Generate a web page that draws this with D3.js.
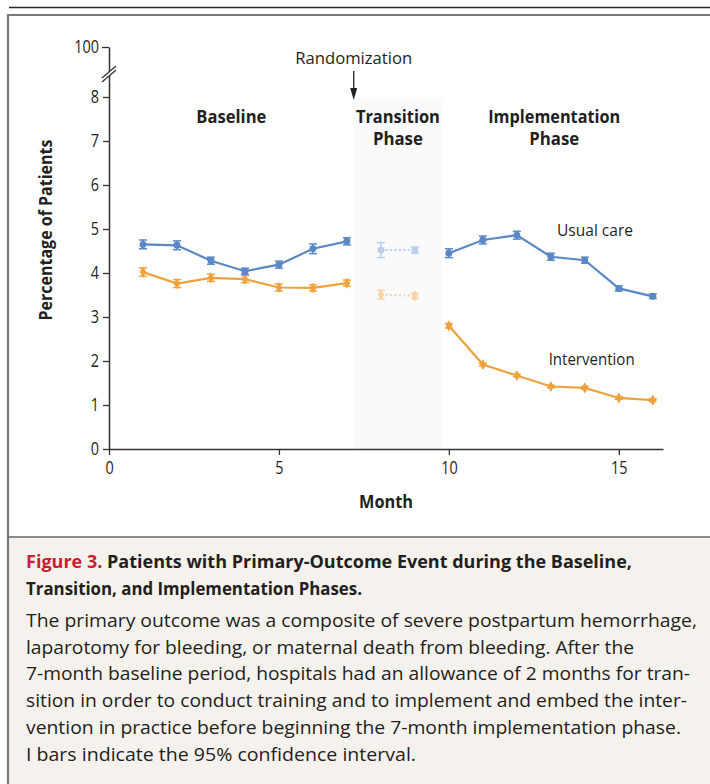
<!DOCTYPE html>
<html>
<head>
<meta charset="utf-8">
<script src="https://cdn.jsdelivr.net/npm/d3@7"></script>
<style>
  html, body { margin: 0; padding: 0; background: #fff; }
  svg { display: block; }
  text { font-family: "Open Sans", "Noto Sans", sans-serif; fill: #231f20; }
</style>
</head>
<body>
<svg id="chart" width="710" height="784"></svg>
<script>
// ---------------- DATA ----------------
const baselineMonths = [1, 2, 3, 4, 5, 6, 7];
const transitionMonths = [8, 9];
const implementationMonths = [10, 11, 12, 13, 14, 15, 16];

const usualBaseline = [4.65, 4.63, 4.28, 4.04, 4.19, 4.55, 4.72];
const usualBaselineErr = [0.10, 0.10, 0.08, 0.07, 0.08, 0.11, 0.08];
const usualTransition = [4.52, 4.52];
const usualTransitionErr = [0.17, 0.07];
const usualImplementation = [4.45, 4.75, 4.86, 4.37, 4.29, 3.65, 3.47];
const usualImplementationErr = [0.10, 0.09, 0.09, 0.08, 0.07, 0.06, 0.05];

const interBaseline = [4.02, 3.76, 3.89, 3.86, 3.67, 3.66, 3.77];
const interBaselineErr = [0.095, 0.09, 0.08, 0.08, 0.08, 0.07, 0.07];
const interTransition = [3.51, 3.48];
const interTransitionErr = [0.10, 0.06];
const interImplementation = [2.80, 1.92, 1.67, 1.42, 1.39, 1.16, 1.11];
const interImplementationErr = [0.05, 0.03, 0.03, 0.03, 0.03, 0.03, 0.03];

const xTicks = [0, 5, 10, 15];
const yTicks = [0, 1, 2, 3, 4, 5, 6, 7, 8, 100];
const transitionSpan = [7.2, 9.8];
const randomizationMonth = 7.2;

const phaseLabels = [
  { lines: ["Baseline"], month: 3.6 },
  { lines: ["Transition", "Phase"], month: 8.5 },
  { lines: ["Implementation", "Phase"], month: 13.1 }
];
const seriesLabels = [
  { text: "Usual care", month: 14.3, value: 4.84 },
  { text: "Intervention", month: 14.2, value: 1.9 }
];

const captionTitleRed = "Figure 3.";
const captionTitle = [
  "Patients with Primary-Outcome Event during the Baseline,",
  "Transition, and Implementation Phases."
];
const captionBody = [
  "The primary outcome was a composite of severe postpartum hemorrhage,",
  "laparotomy for bleeding, or maternal death from bleeding. After the",
  "7-month baseline period, hospitals had an allowance of 2 months for tran-",
  "sition in order to conduct training and to implement and embed the inter-",
  "vention in practice before beginning the 7-month implementation phase.",
  "I bars indicate the 95% confidence interval."
];

// ---------------- STYLE ----------------
const blue = "#5a87c6", orange = "#eea23d";
const blueLight = "#bacdea", orangeLight = "#f6d4a6";
const ink = "#231f20";
const FONT = '"Open Sans", "Noto Sans", sans-serif';

const svg = d3.select("#chart");

// horizontally condense text to mimic the narrow original face
function condense(sel, k) {
  sel.each(function () {
    const n = this.getComputedTextLength();
    d3.select(this).attr("textLength", n * k).attr("lengthAdjust", "spacingAndGlyphs");
  });
}
function fitW(sel, w) {
  const n = sel.node().getComputedTextLength();
  if (Math.abs(n - w) / w > 0.01) sel.attr("textLength", w).attr("lengthAdjust", "spacingAndGlyphs");
  return sel;
}

// frame
svg.append("line").attr("x1", 9).attr("x2", 710).attr("y1", 7.5).attr("y2", 7.5)
  .attr("stroke", "#2a2a2a").attr("stroke-width", 1.6);
svg.append("rect").attr("x", 8).attr("y", 537).attr("width", 702).attr("height", 247)
  .attr("fill", "#f5f2ed");
svg.append("line").attr("x1", 7).attr("x2", 710).attr("y1", 15).attr("y2", 15)
  .attr("stroke", "#7a7a7a").attr("stroke-width", 2.2);
svg.append("line").attr("x1", 8).attr("x2", 8).attr("y1", 14).attr("y2", 784)
  .attr("stroke", "#7a7a7a").attr("stroke-width", 2.2);
svg.append("line").attr("x1", 8).attr("x2", 710).attr("y1", 537).attr("y2", 537)
  .attr("stroke", "#666").attr("stroke-width", 1.5);

// scales
const x = d3.scaleLinear().domain([0, 16.3]).range([109, 663]);
const y = d3.scaleLinear().domain([0, 8, 100]).range([449, 97, 47]);

// transition shading
svg.append("rect")
  .attr("x", x(transitionSpan[0])).attr("width", x(transitionSpan[1]) - x(transitionSpan[0]))
  .attr("y", 99).attr("height", y(0) - 99)
  .attr("fill", "#fafafa");

// axes
const yAxis = d3.axisLeft(y).tickValues(yTicks).tickSize(6).tickSizeOuter(0).tickPadding(4)
  .tickFormat(d3.format("d"));
const gy = svg.append("g").attr("transform", `translate(${x(0)},0)`).call(yAxis);
const xAxis = d3.axisBottom(x).tickValues(xTicks).tickSize(6).tickSizeOuter(0).tickPadding(6);
const gx = svg.append("g").attr("transform", `translate(0,${y(0)})`).call(xAxis);
[gx, gy].forEach(g => {
  g.attr("font-size", 18).attr("font-family", FONT);
  g.select(".domain").attr("stroke", "#333").attr("stroke-width", 1.5);
  g.selectAll(".tick line").attr("stroke", "#333").attr("stroke-width", 1.3);
  g.selectAll(".tick text").attr("fill", ink).attr("font-size", 18);
  condense(g.selectAll(".tick text"), 0.8);
});
gy.selectAll(".tick").filter(d => d === 100).select("line").attr("x2", -7);

// axis break
const by = 72;
const gb = svg.append("g");
gb.append("polygon")
  .attr("points", `${x(0)-7},${by+6} ${x(0)+7},${by-6} ${x(0)+7},${by-2} ${x(0)-7},${by+10}`)
  .attr("fill", "#fff");
[0, 4].forEach(o => {
  gb.append("line")
    .attr("x1", x(0) - 7).attr("y1", by + 6 + o)
    .attr("x2", x(0) + 7).attr("y2", by - 6 + o)
    .attr("stroke", "#333").attr("stroke-width", 1.3);
});

// axis titles
fitW(svg.append("text").attr("x", 386).attr("y", 508).attr("text-anchor", "middle")
  .style("font-size", "18px").style("font-weight", "bold").text("Month"), 54);
fitW(svg.append("text").attr("transform", "translate(52,230) rotate(-90)").attr("text-anchor", "middle")
  .style("font-size", "18px").style("font-weight", "bold").text("Percentage of Patients"), 181);

// randomization arrow
fitW(svg.append("text").attr("x", x(randomizationMonth)).attr("y", 64).attr("text-anchor", "middle")
  .style("font-size", "17px").text("Randomization"), 117);
svg.append("line").attr("x1", x(randomizationMonth)).attr("x2", x(randomizationMonth))
  .attr("y1", 71).attr("y2", 92).attr("stroke", "#222").attr("stroke-width", 1.3);
svg.append("path")
  .attr("d", `M${x(randomizationMonth)-3.5},88 L${x(randomizationMonth)+3.5},88 L${x(randomizationMonth)},100 Z`)
  .attr("fill", "#222");

// phase labels
const phaseWidths = { "Baseline": 70, "Transition": 84, "Implementation": 132, "Phase": 50 };
phaseLabels.forEach(p => {
  p.lines.forEach((l, i) => {
    fitW(svg.append("text").attr("x", x(p.month)).attr("y", 123 + i * 22).attr("text-anchor", "middle")
      .style("font-size", "18px").style("font-weight", "bold").text(l), phaseWidths[l]);
  });
});
const seriesWidths = [76, 86];
seriesLabels.forEach((s, i) => {
  fitW(svg.append("text").attr("x", x(s.month)).attr("y", y(s.value)).attr("text-anchor", "middle")
    .style("font-size", "17px").text(s.text), seriesWidths[i]);
});

// series drawing
function drawSeries(months, vals, errs, color, symbol, dashed) {
  const g = svg.append("g");
  const pts = months.map((m, i) => ({ m, v: vals[i], e: errs[i] }));
  const line = d3.line().x(d => x(d.m)).y(d => y(d.v));
  g.append("path").datum(pts).attr("d", line).attr("fill", "none")
    .attr("stroke", color).attr("stroke-width", dashed ? 2 : 2.2)
    .attr("stroke-dasharray", dashed ? "2,2.5" : null);
  const eb = g.selectAll(".eb").data(pts).join("g");
  eb.append("line").attr("x1", d => x(d.m)).attr("x2", d => x(d.m))
    .attr("y1", d => y(d.v - d.e)).attr("y2", d => y(d.v + d.e))
    .attr("stroke", color).attr("stroke-width", 1.5);
  [-1, 1].forEach(s => {
    eb.append("line").attr("x1", d => x(d.m) - 4).attr("x2", d => x(d.m) + 4)
      .attr("y1", d => y(d.v + s * d.e)).attr("y2", d => y(d.v + s * d.e))
      .attr("stroke", color).attr("stroke-width", 1.5);
  });
  g.selectAll(".pt").data(pts).join("path")
    .attr("transform", d => `translate(${x(d.m)},${y(d.v)})`)
    .attr("d", d3.symbol().type(symbol).size(symbol === d3.symbolCircle ? 38 : 36))
    .attr("fill", color);
}
drawSeries(transitionMonths, usualTransition, usualTransitionErr, blueLight, d3.symbolCircle, true);
drawSeries(transitionMonths, interTransition, interTransitionErr, orangeLight, d3.symbolDiamond, true);
drawSeries(baselineMonths, interBaseline, interBaselineErr, orange, d3.symbolDiamond, false);
drawSeries(implementationMonths, interImplementation, interImplementationErr, orange, d3.symbolDiamond, false);
drawSeries(baselineMonths, usualBaseline, usualBaselineErr, blue, d3.symbolCircle, false);
drawSeries(implementationMonths, usualImplementation, usualImplementationErr, blue, d3.symbolCircle, false);

// caption
const t1 = svg.append("text").attr("x", 26).attr("y", 568)
  .style("font-size", "18.5px").style("font-weight", "bold");
t1.append("tspan").style("fill", "#c8202f").text(captionTitleRed + " ");
t1.append("tspan").text(captionTitle[0]);
fitW(t1, 606);
fitW(svg.append("text").attr("x", 26).attr("y", 595)
  .style("font-size", "18.5px").style("font-weight", "bold").text(captionTitle[1]), 336);
const bodyWidths = [671, 608, 664, 661, 655, 390];
captionBody.forEach((l, i) => {
  fitW(svg.append("text").attr("x", 26).attr("y", 627 + i * 26.7)
    .style("font-size", "18px").text(l), bodyWidths[i]);
});
</script>
</body>
</html>
